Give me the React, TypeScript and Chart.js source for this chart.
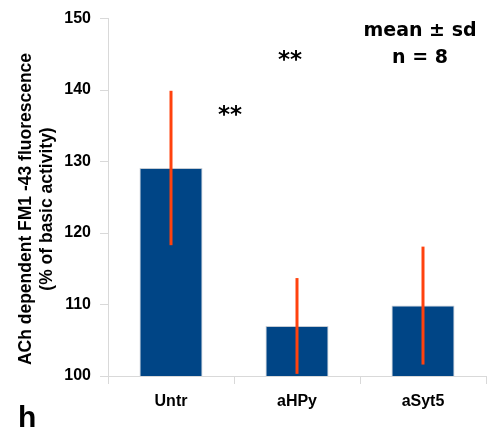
import React, { useEffect, useRef } from "react";
import { Chart, registerables } from "chart.js";

Chart.register(...registerables);

const categories = ["Untr", "aHPy", "aSyt5"];
const means = [129.1, 107.0, 109.85];
const sds = [10.8, 6.7, 8.25];
const yMin = 100;
const yMax = 150;
const yStep = 10;
const yTitleLines = ["ACh dependent FM1 -43 fluorescence", "(% of basic activity)"];
const stars = ["**", "**"];
const legendLines = ["mean \u00b1 sd", "n = 8"];
const panelLabel = "h";

const FONT = "'Liberation Sans', Arial, sans-serif";
const AFONT = "'DejaVu Sans', Verdana, sans-serif";

const extrasPlugin = {
  id: "extras",
  afterDatasetsDraw(chart: any) {
    const ctx = chart.ctx;
    const meta = chart.getDatasetMeta(0);
    const y = chart.scales.y;
    ctx.save();
    ctx.strokeStyle = "#ff420e";
    ctx.lineWidth = 3;
    ctx.lineCap = "butt";
    meta.data.forEach((el: any, i: number) => {
      const top = y.getPixelForValue(means[i] + sds[i]);
      const bot = y.getPixelForValue(means[i] - sds[i]);
      ctx.beginPath();
      ctx.moveTo(el.x, top);
      ctx.lineTo(el.x, bot);
      ctx.stroke();
    });
    ctx.restore();
  },
  afterDraw(chart: any) {
    const ctx = chart.ctx;
    ctx.save();
    ctx.fillStyle = "#000";
    // y title
    ctx.font = `bold 17.5px ${FONT}`;
    ctx.textAlign = "center";
    ctx.textBaseline = "middle";
    ctx.translate(26, 209);
    ctx.rotate(-Math.PI / 2);
    yTitleLines.forEach((t, i) => ctx.fillText(t, 0, i * 21));
    ctx.setTransform(1, 0, 0, 1, 0, 0);
    // stars
    ctx.font = `bold 23px ${AFONT}`;
    ctx.textAlign = "center";
    ctx.textBaseline = "alphabetic";
    ctx.fillText(stars[0], 290, 67);
    ctx.fillText(stars[1], 230, 122);
    // legend
    ctx.font = `bold 19px ${AFONT}`;
    ctx.textBaseline = "middle";
    legendLines.forEach((t, i) => ctx.fillText(t, 420, 31 + i * 27));
    // panel label
    ctx.font = `bold 30px ${FONT}`;
    ctx.textAlign = "left";
    ctx.textBaseline = "alphabetic";
    ctx.fillText(panelLabel, 18, 427);
    ctx.restore();
  },
};

export default function App() {
  const ref = useRef<HTMLCanvasElement>(null);
  useEffect(() => {
    const canvas = ref.current!;
    const chart = new Chart(canvas, {
      type: "bar",
      data: {
        labels: categories,
        datasets: [
          {
            data: means,
            backgroundColor: "#004586",
            borderColor: "#c5ccd4",
            borderWidth: 1,
            categoryPercentage: 1,
            barPercentage: 0.5,
          },
        ],
      },
      options: {
        responsive: false,
        animation: false,
        devicePixelRatio: 1,
        layout: { padding: { top: 16, right: 1, left: 0, bottom: 0 } },
        plugins: { legend: { display: false }, tooltip: { enabled: false } },
        scales: {
          x: {
            afterFit: (s: any) => {
              s.height = 60;
            },
            grid: {
              offset: true,
              drawOnChartArea: false,
              drawTicks: true,
              tickLength: 8,
              color: "#d9d9d9",
            },
            border: { display: true, color: "#d9d9d9" },
            ticks: {
              color: "#000",
              padding: 8,
              font: { family: FONT, size: 16, weight: "bold" },
            },
          },
          y: {
            min: yMin,
            max: yMax,
            afterFit: (s: any) => {
              s.width = 108;
            },
            grid: {
              drawOnChartArea: false,
              drawTicks: true,
              tickLength: 8,
              color: "#d9d9d9",
            },
            border: { display: true, color: "#d9d9d9" },
            ticks: {
              stepSize: yStep,
              color: "#000",
              padding: 9,
              font: { family: FONT, size: 16, weight: "bold" },
            },
          },
        },
      },
      plugins: [extrasPlugin],
    } as any);
    return () => chart.destroy();
  }, []);
  return (
    <div style={{ position: "absolute", left: 0, top: 0, width: 487, height: 436, background: "#fff" }}>
      <canvas ref={ref} width={487} height={436} style={{ display: "block" }} />
    </div>
  );
}
